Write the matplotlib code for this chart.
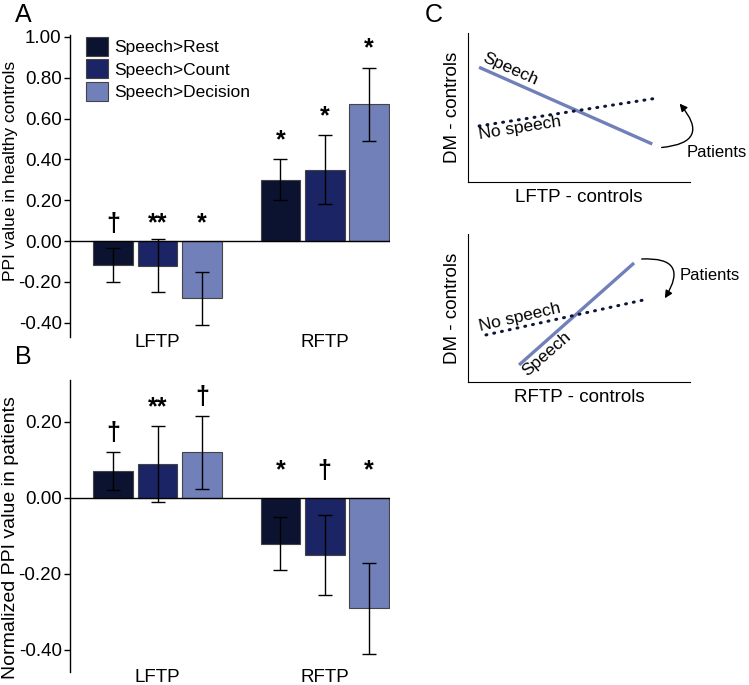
import numpy as np
import matplotlib
matplotlib.use('Agg')
import matplotlib.pyplot as plt
from matplotlib.patches import Patch

plt.rcParams['font.family'] = ['Liberation Sans', 'DejaVu Sans']

groups = ['LFTP', 'RFTP']
series = ['Speech>Rest', 'Speech>Count', 'Speech>Decision']
colori = ['#0b1330', '#1b2464', '#7180b8']

# pannello A - controlli
a_vals = [[-0.115, 0.30], [-0.12, 0.35], [-0.28, 0.67]]
a_err = [[0.083, 0.10], [0.13, 0.17], [0.13, 0.18]]
a_sig = [['†', '*'], ['**', '*'], ['*', '*']]

# pannello B - pazienti
b_vals = [[0.07, -0.12], [0.09, -0.15], [0.12, -0.29]]
b_err = [[0.05, 0.07], [0.10, 0.105], [0.097, 0.12]]
b_sig = [['†', '*'], ['**', '†'], ['†', '*']]

# pannello C - schema (coordinate dell'asse)
top_speech_x = [0.05, 0.83]
top_speech_y = [0.77, 0.255]
top_nospeech_x = [0.05, 0.856]
top_nospeech_y = [0.376, 0.564]
bot_speech_x = [0.23, 0.748]
bot_speech_y = [0.115, 0.804]
bot_nospeech_x = [0.081, 0.811]
bot_nospeech_y = [0.318, 0.561]

fig = plt.figure(figsize=(7.49, 6.85), dpi=100)

passo = 0.265
larg = 0.238
x = np.arange(len(groups))


def pannello(ax, vals, errs, sigs, ylim, ticks, ylabel, neg_off, lab_size, lab_y):
    for i in range(len(series)):
        pos = x + (i - 1) * passo
        ax.bar(pos, vals[i], width=larg, color=colori[i], edgecolor='#444444',
               linewidth=0.8, label=series[i], zorder=2)
        ax.errorbar(pos, vals[i], yerr=errs[i], fmt='none', ecolor='black',
                    elinewidth=1, capsize=5, capthick=1, zorder=3)
        for j in range(len(groups)):
            v = vals[i][j]
            base = v + errs[i][j] if v > 0 else 0
            off = 5 if v > 0 else neg_off
            ax.annotate(sigs[i][j], (pos[j], base), xytext=(0, off),
                        textcoords='offset points', ha='center', va='bottom',
                        fontsize=18, fontweight='bold')
    ax.axhline(0, color='black', lw=1, zorder=4)
    ax.set_ylim(*ylim)
    ax.set_xlim(-0.524, 1.39)
    ax.set_yticks(ticks)
    ax.set_yticklabels(['%.2f' % t for t in ticks], fontsize=13.5)
    ax.set_xticks([])
    for s in ['top', 'right', 'bottom']:
        ax.spines[s].set_visible(False)
    ax.spines['left'].set_linewidth(1)
    ax.tick_params(axis='y', length=4, width=1, pad=2)
    ax.set_ylabel(ylabel, fontsize=lab_size)
    ax.yaxis.set_label_coords(-0.185, lab_y)
    ax.yaxis.label.set_verticalalignment('center')
    for j, g in enumerate(groups):
        ax.annotate(g, (x[j], 0), xycoords=ax.get_xaxis_transform(),
                    xytext=(0, -4), textcoords='offset points',
                    ha='center', va='center', fontsize=13.5)


axA = fig.add_axes([0.0935, 0.508, 0.427, 0.441])
pannello(axA, a_vals, a_err, a_sig, (-0.47, 1.01),
         [1.0, 0.8, 0.6, 0.4, 0.2, 0.0, -0.2, -0.4],
         'PPI value in healthy controls', 4, 12.5, 0.55)
maniglie = [Patch(facecolor=c, edgecolor='#444444', linewidth=0.8) for c in colori]
axA.legend(maniglie, series, loc='upper left', bbox_to_anchor=(0.045, 1.0),
           frameon=False, fontsize=12.5, handlelength=1.25, handleheight=1.3,
           handletextpad=0.35, labelspacing=0.22, borderaxespad=0, borderpad=0.1)

axB = fig.add_axes([0.0935, 0.019, 0.427, 0.426])
pannello(axB, b_vals, b_err, b_sig, (-0.458, 0.31),
         [0.2, 0.0, -0.2, -0.4],
         'Normalized PPI value in patients', 11, 14, 0.462)

fig.text(15 / 749, 1 - 15 / 685, 'A', fontsize=18, ha='left', va='center')
fig.text(15 / 749, 1 - 357 / 685, 'B', fontsize=18, ha='left', va='center')
fig.text(425 / 749, 1 - 15 / 685, 'C', fontsize=18, ha='left', va='center')

# schema C
lw_line = 2.4
col_sp = '#7180b8'
col_no = '#0f1538'


def schema(ax, xlabel):
    ax.set_xlim(0, 1)
    ax.set_ylim(0, 1)
    ax.set_xticks([])
    ax.set_yticks([])
    for s in ['top', 'right']:
        ax.spines[s].set_visible(False)
    ax.set_xlabel(xlabel, fontsize=13.5, labelpad=5)
    ax.set_ylabel('DM - controls', fontsize=13.5, labelpad=5)


axC1 = fig.add_axes([468 / 749, 1 - 182 / 685, 222 / 749, 149 / 685])
schema(axC1, 'LFTP - controls')
axC1.plot(top_speech_x, top_speech_y, color=col_sp, lw=lw_line, solid_capstyle='butt')
axC1.plot(top_nospeech_x, top_nospeech_y, color=col_no, lw=2.2,
          linestyle=(0, (0.3, 2.3)), dash_capstyle='round')
axC1.text(0.19, 0.76, 'Speech', rotation=-24, fontsize=12.5, ha='center', va='center',
          rotation_mode='anchor')
axC1.text(0.235, 0.36, 'No speech', rotation=9, fontsize=12.5, ha='center', va='center',
          rotation_mode='anchor')
axC1.annotate('', xy=(0.945, 0.54), xytext=(0.86, 0.23),
              arrowprops=dict(arrowstyle='-|>', color='black', lw=1,
                              connectionstyle='arc3,rad=1.0', mutation_scale=11),
              annotation_clip=False)
axC1.text(0.985, 0.2, 'Patients', fontsize=12, ha='left', va='center', clip_on=False)

axC2 = fig.add_axes([468 / 749, 1 - 382 / 685, 222 / 749, 148 / 685])
schema(axC2, 'RFTP - controls')
axC2.plot(bot_speech_x, bot_speech_y, color=col_sp, lw=lw_line, solid_capstyle='butt')
axC2.plot(bot_nospeech_x, bot_nospeech_y, color=col_no, lw=2.2,
          linestyle=(0, (0.3, 2.3)), dash_capstyle='round')
axC2.text(0.235, 0.44, 'No speech', rotation=13, fontsize=12.5, ha='center', va='center',
          rotation_mode='anchor')
axC2.text(0.355, 0.19, 'Speech', rotation=41, fontsize=12.5, ha='center', va='center',
          rotation_mode='anchor')
axC2.annotate('', xy=(0.88, 0.55), xytext=(0.77, 0.83),
              arrowprops=dict(arrowstyle='-|>', color='black', lw=1,
                              connectionstyle='arc3,rad=-1.0', mutation_scale=11),
              annotation_clip=False)
axC2.text(0.955, 0.72, 'Patients', fontsize=12, ha='left', va='center', clip_on=False)

fig.savefig('out.png', dpi=100)
